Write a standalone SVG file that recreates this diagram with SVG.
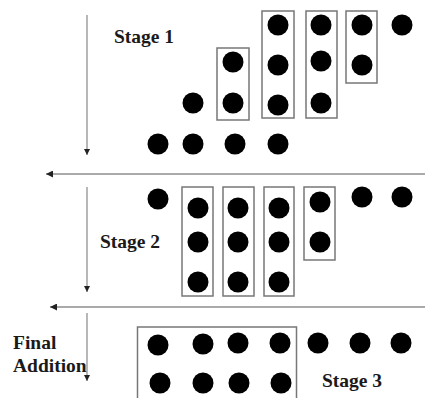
<svg xmlns="http://www.w3.org/2000/svg" width="425" height="398" viewBox="0 0 425 398">
  <style>
    .dot { fill: #000; }
    .box { fill: none; stroke: #777; stroke-width: 1.5; }
    .vline { stroke: #888; stroke-width: 1.2; fill: none; }
    .hline { stroke: #aaa; stroke-width: 2; fill: none; }
    .lbl { font-family: "Liberation Serif", "Times New Roman", serif; font-weight: bold; font-size: 19.5px; fill: #1a1a1a; }
  </style>
  <defs>
    <marker id="arrowV" viewBox="0 0 10 10" refX="10" refY="5" markerWidth="6" markerHeight="6" markerUnits="userSpaceOnUse" orient="auto">
      <path d="M0,0 L10,5 L0,10 Z" fill="#222"/>
    </marker>
    <marker id="arrowH" viewBox="0 0 10 10" refX="10" refY="5" markerWidth="7" markerHeight="7" markerUnits="userSpaceOnUse" orient="auto">
      <path d="M0,0 L10,5 L0,10 Z" fill="#222"/>
    </marker>
  </defs>
  <rect width="425" height="398" fill="#fff"/>

  <!-- connectors: stage flow arrows -->
  <g id="connectors">
    <line class="vline" x1="87" y1="15" x2="87" y2="155" marker-end="url(#arrowV)"/>
    <line class="hline" x1="425" y1="174" x2="46" y2="174" marker-end="url(#arrowH)"/>
    <line class="vline" x1="87" y1="187" x2="87" y2="292" marker-end="url(#arrowV)"/>
    <line class="hline" x1="425" y1="307" x2="50" y2="307" marker-end="url(#arrowH)"/>
    <line class="vline" x1="87" y1="313" x2="87" y2="381" marker-end="url(#arrowV)"/>
  </g>

  <!-- Stage 1: partial product dot matrix -->
  <g id="stage1">
    <text class="lbl" x="114" y="43">Stage 1</text>
    <rect class="box" x="217" y="48" width="32" height="72"/>
    <rect class="box" x="262" y="11" width="32" height="107"/>
    <rect class="box" x="306" y="11" width="31" height="107"/>
    <rect class="box" x="346" y="11" width="31" height="72"/>
    <circle class="dot" cx="278" cy="25" r="10.5"/>
    <circle class="dot" cx="321" cy="25" r="10.5"/>
    <circle class="dot" cx="362" cy="25" r="10.5"/>
    <circle class="dot" cx="402" cy="25" r="10.5"/>
    <circle class="dot" cx="233" cy="62" r="10.5"/>
    <circle class="dot" cx="278" cy="65" r="10.5"/>
    <circle class="dot" cx="321" cy="61" r="10.5"/>
    <circle class="dot" cx="362" cy="65" r="10.5"/>
    <circle class="dot" cx="193" cy="103" r="10.5"/>
    <circle class="dot" cx="233" cy="103" r="10.5"/>
    <circle class="dot" cx="278" cy="105" r="10.5"/>
    <circle class="dot" cx="321" cy="103" r="10.5"/>
    <circle class="dot" cx="158" cy="144" r="10.5"/>
    <circle class="dot" cx="193" cy="144" r="10.5"/>
    <circle class="dot" cx="235" cy="144" r="10.5"/>
    <circle class="dot" cx="278" cy="144" r="10.5"/>
  </g>

  <!-- Stage 2: reduced matrix -->
  <g id="stage2">
    <text class="lbl" x="100" y="248">Stage 2</text>
    <rect class="box" x="182" y="187" width="31" height="109"/>
    <rect class="box" x="223" y="187" width="31" height="109"/>
    <rect class="box" x="264" y="187" width="30" height="109"/>
    <rect class="box" x="304" y="187" width="31" height="73"/>
    <circle class="dot" cx="158" cy="199" r="10.5"/>
    <circle class="dot" cx="198" cy="208" r="10.5"/>
    <circle class="dot" cx="198" cy="242" r="10.5"/>
    <circle class="dot" cx="198" cy="282" r="10.5"/>
    <circle class="dot" cx="238" cy="208" r="10.5"/>
    <circle class="dot" cx="238" cy="242" r="10.5"/>
    <circle class="dot" cx="238" cy="282" r="10.5"/>
    <circle class="dot" cx="279" cy="208" r="10.5"/>
    <circle class="dot" cx="279" cy="242" r="10.5"/>
    <circle class="dot" cx="279" cy="282" r="10.5"/>
    <circle class="dot" cx="320" cy="202" r="10.5"/>
    <circle class="dot" cx="320" cy="242" r="10.5"/>
    <circle class="dot" cx="362" cy="197" r="10.5"/>
    <circle class="dot" cx="402" cy="197" r="10.5"/>
  </g>

  <!-- Stage 3: final addition -->
  <g id="stage3">
    <text class="lbl" x="13" y="349">Final</text>
    <text class="lbl" x="13" y="372">Addition</text>
    <text class="lbl" x="322" y="387">Stage 3</text>
    <rect class="box" x="137.5" y="327" width="159" height="80"/>
    <circle class="dot" cx="158" cy="345" r="10.5"/>
    <circle class="dot" cx="203" cy="344" r="10.5"/>
    <circle class="dot" cx="238" cy="343" r="10.5"/>
    <circle class="dot" cx="280" cy="343" r="10.5"/>
    <circle class="dot" cx="318" cy="343" r="10.5"/>
    <circle class="dot" cx="360" cy="343" r="10.5"/>
    <circle class="dot" cx="401" cy="343" r="10.5"/>
    <circle class="dot" cx="160" cy="383" r="10.5"/>
    <circle class="dot" cx="203" cy="383" r="10.5"/>
    <circle class="dot" cx="239" cy="383" r="10.5"/>
    <circle class="dot" cx="281" cy="383" r="10.5"/>
  </g>
</svg>
